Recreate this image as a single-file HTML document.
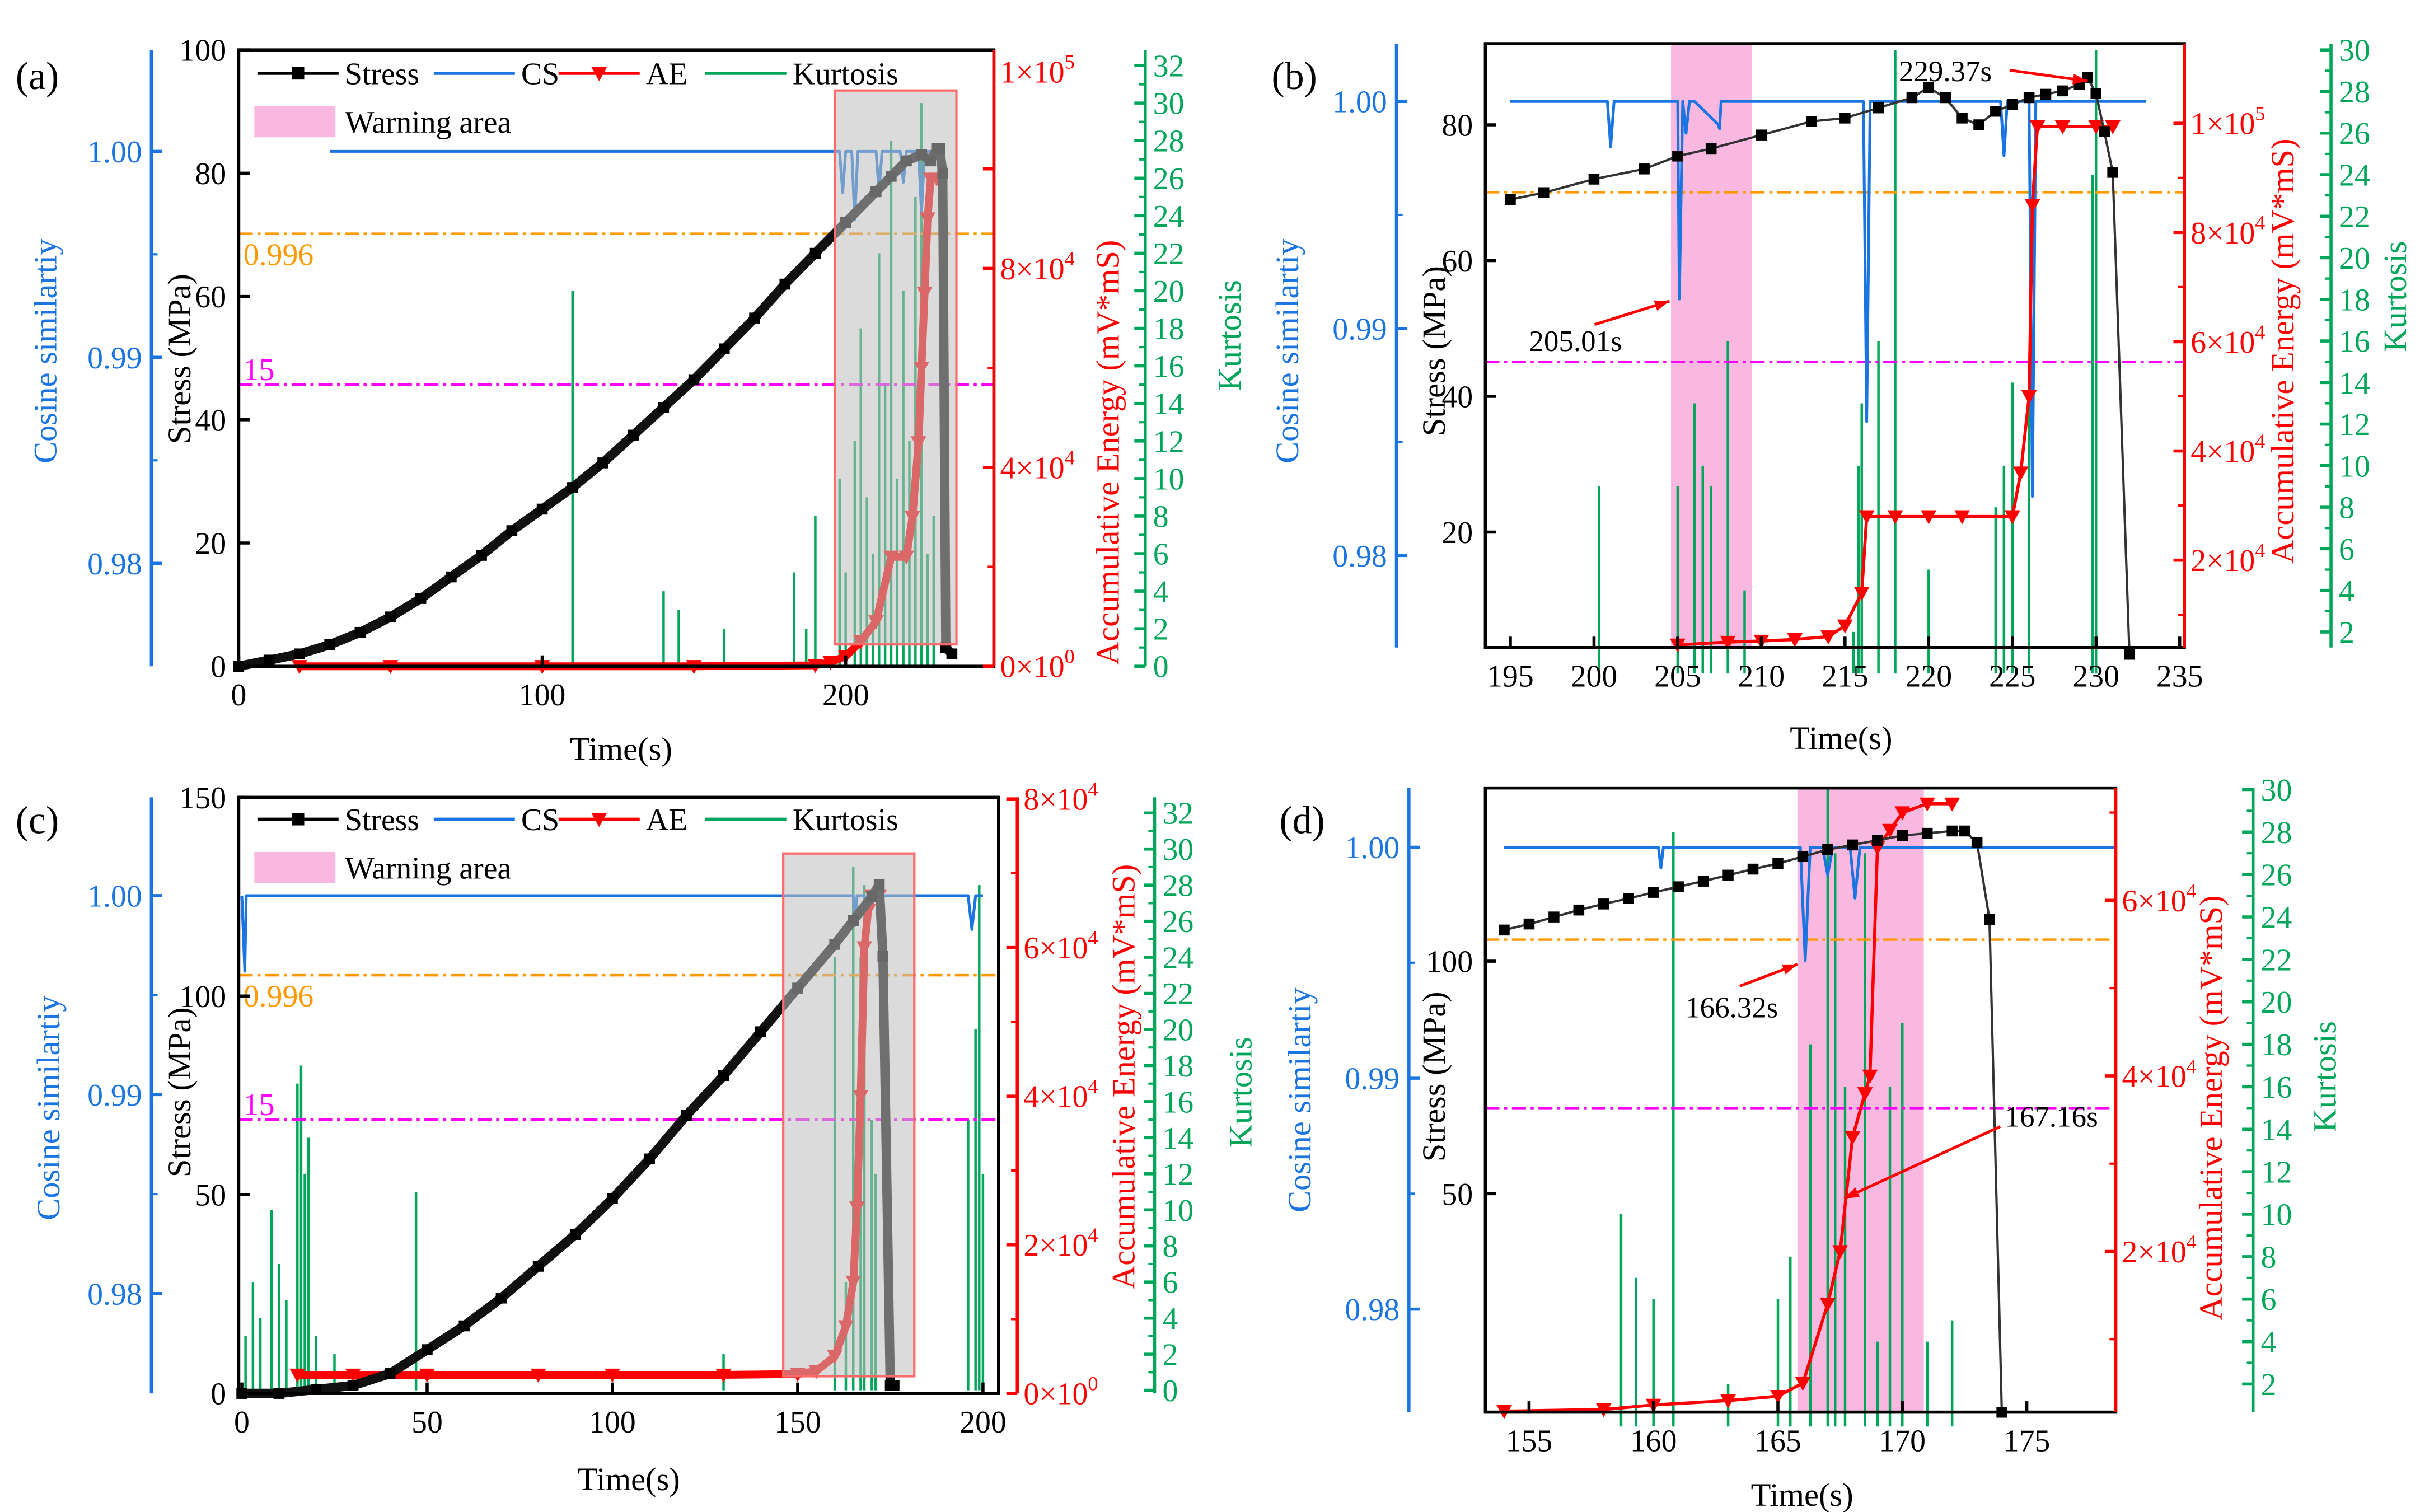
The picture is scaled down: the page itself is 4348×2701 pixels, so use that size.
<!DOCTYPE html>
<html><head><meta charset="utf-8"><style>
html,body{margin:0;padding:0;background:#fff;}
svg{display:block;font-family:"Liberation Serif",serif;}
text{font-family:"Liberation Serif",serif;}
</style></head><body>
<svg id="fig" xmlns="http://www.w3.org/2000/svg" width="4348" height="2701" viewBox="0 0 1560 969" preserveAspectRatio="none" font-family="Liberation Serif, serif"></svg>
<script>
// ---------- Panel (a) data ----------
const aStressT=[0,10,20,30,40,50,60,70,80,90,100,110,120,130,140,150,160,170,180,190,200,210,215,220,225,228,230,231,232,233,235];
const aStressV=[0,1,2,3.5,5.5,8,11,14.5,18,22,25.5,29,33,37.5,42,46.5,51.5,56.5,62,67,72,77,79.5,82,83,82,84,84,80,3,2];
const aCsT=[30,198,199,200,202,203,204,206,210,211,212,218,219,220,224,225,226,230];
const aCsV=[1.0,1.0,0.998,1.0,1.0,0.9967,1.0,1.0,1.0,0.998,1.0,1.0,0.9985,1.0,1.0,0.997,1.0,1.0];
const aAeT=[20,50,100,150,190,195,200,205,210,215,220,222,224,225,226,227,228,230];
const aAeV=[0,0,0,0,200,800,2000,5000,9000,22000,22000,30000,45000,60000,75000,90000,98000,98000];
const aKT=[110,140,145,160,183,187,190,198,200,203,205,207,209,211,213,215,217,219,221,223,225,227,229];
const aKV=[20,4,3,2,5,2,8,10,5,12,18,9,6,22,15,28,10,20,12,25,30,6,8];
// ---------- Panel (b) data ----------
const bStressT=[195,197,200,203,205,207,210,213,215,217,219,220,221,222,223,224,225,226,227,228,229,229.5,230,230.5,231,232];
const bStressV=[69,70,72,73.5,75.4,76.5,78.5,80.5,81,82.5,84,85.5,84,81,80,82,83,84,84.5,85,86,87,84.6,79,73,2];
const bCsT=[195,200.8,201,201.2,205,205.1,205.3,205.5,205.7,206,207.4,207.5,207.6,216.1,216.3,216.5,224.3,224.5,224.7,226,226.2,226.4,233];
const bCsV=[1.0,1.0,0.998,1.0,1.0,0.9913,1.0,0.9986,1.0,1.0,0.999,0.9988,1.0,1.0,0.9859,1.0,1.0,0.9976,1.0,1.0,0.9826,1.0,1.0];
const bAeT=[205,208,210,212,214,215,216,216.3,218,220,222,225,225.5,226,226.2,226.5,228,230,231];
const bAeV=[4500,5000,5200,5500,6000,8000,14000,28000,28000,28000,28000,28000,36000,50000,85000,99400,99400,99400,99400];
const bKT=[200.3,205,206,206.5,207,208,209,215.5,215.8,216,217,218,220,224,224.5,225,226,229.8,230];
const bKV=[9,9,13,10,9,16,4,2,10,13,16,30,5,8,10,14,15,24,30];
// ---------- Panel (c) data ----------
const cStressT=[0,10,20,30,40,50,60,70,80,90,100,110,120,130,140,150,160,165,170,172,173,175,176];
const cStressV=[0,0,1,2,5,11,17,24,32,40,49,59,70,80,91,102,113,119,125,128,110,2,2];
const cCsT=[0,0.8,1.2,2,160,165,165.5,166,168,168.5,169,196,197,198,200];
const cCsV=[1.0,0.9962,1.0,1.0,1.0,1.0,0.9985,1.0,1.0,0.998,1.0,1.0,0.9983,1.0,1.0];
const cAeT=[15,30,50,80,100,130,150,155,160,163,165,166,167,168,169,170,172];
const cAeV=[2500,2500,2500,2500,2500,2500,2600,3000,5000,9000,15000,25000,40000,60000,65000,67000,67000];
const cKT=[1,3,5,8,10,12,15,16,17,18,20,25,47,130,160,163,165,167,168,170,171,196,198,199,200];
const cKV=[3,6,4,10,7,5,17,18,12,14,3,2,11,2,24,6,29,24,28,15,12,15,20,28,12];
// ---------- Panel (d) data ----------
const dStressT=[154,155,156,157,158,159,160,161,162,163,164,165,166,167,168,169,170,171,172,172.5,173,173.5,174];
const dStressV=[106.7,108,109.5,111,112.3,113.5,114.8,116,117.2,118.5,119.8,121,122.5,124,125,126,127,127.5,128,128,125.5,109,3];
const dCsT=[154,160.2,160.3,160.4,165.9,166.1,166.3,166.8,167,167.2,167.9,168.1,168.3,178.5];
const dCsV=[1.0,1.0,0.9991,1.0,1.0,0.9951,1.0,1.0,0.9988,1.0,1.0,0.9978,1.0,1.0];
const dAeT=[154,158,160,163,165,166,167,167.5,168,168.5,168.7,169,169.5,170,171,172];
const dAeV=[1800,2000,2500,3000,3500,5000,14000,20000,33000,38000,40000,66000,68000,70000,71000,71000];
const dKT=[158.7,159.3,160,160.8,163,165,165.5,166.3,167,167.3,167.7,168.5,169,169.5,170,171,172];
const dKV=[10,7,6,28,2,6,8,18,30,27,16,27,4,16,19,4,5];

const NS='http://www.w3.org/2000/svg';
const svg=document.getElementById('fig');
function mk(tag,attrs,parent,name,inter){
  const e=document.createElementNS(NS,tag);
  for(const k in attrs)e.setAttribute(k,attrs[k]);
  
  
  (parent||svg).appendChild(e);return e;
}
function lin(d0,p0,d1,p1){const k=(p1-p0)/(d1-d0);return v=>p0+(v-d0)*k;}
const BLUE='#1a75e0',RED='#ff0000',GREEN='#00a65a',ORANGE='#ff9900',MAG='#ff00ff';
const FONT='Liberation Serif, serif';

function txt(g,x,y,s,fill,size,anchor,name,rot){
  const t=mk('text',{x:x,y:y,fill:fill,'font-size':size,'font-family':FONT,'text-anchor':anchor||'middle'},g,name);
  if(rot)t.setAttribute('transform','rotate(-90 '+x+' '+y+')');
  t.textContent=s;return t;
}
function sci(g,x,y,m,e,name){
  const t=mk('text',{x:x,y:y,fill:RED,'font-size':20,'font-family':FONT,'text-anchor':'start'},g,name);
  t.appendChild(document.createTextNode(m+'×10'));
  const s=document.createElementNS(NS,'tspan');s.setAttribute('dy','-9');s.setAttribute('font-size','13');s.textContent=e;t.appendChild(s);
}
function vaxis(g,x,y0,y1,color,ticks,fy,side,labelFn,name,minor){
  mk('line',{x1:x,y1:y0,x2:x,y2:y1,stroke:color,'stroke-width':2},g,name+'-line');
  ticks.forEach(v=>{const y=fy(v);
    mk('line',{x1:x,y1:y,x2:x+(side==='right'?-7:7),y2:y,stroke:color,'stroke-width':2},g,name+'-tick');
    labelFn(v,y);});
  (minor||[]).forEach(v=>{const y=fy(v);
    mk('line',{x1:x,y1:y,x2:x+(side==='right'?-4:4),y2:y,stroke:color,'stroke-width':1.5},g,name+'-minor-tick');});
}
function poly(g,T,V,fx,fy,color,w,name){
  const pts=T.map((t,i)=>fx(t).toFixed(1)+','+fy(V[i]).toFixed(1)).join(' ');
  mk('polyline',{points:pts,fill:'none',stroke:color,'stroke-width':w,'stroke-linejoin':'round'},g,name);
}
function squares(g,T,V,fx,fy,name){T.forEach((t,i)=>mk('rect',{x:fx(t)-3.5,y:fy(V[i])-3.5,width:7,height:7,fill:'#000'},g,name));}
function tris(g,T,V,fx,fy,name){T.forEach((t,i)=>{const x=fx(t),y=fy(V[i]);
  mk('polygon',{points:(x-5)+','+(y-4)+' '+(x+5)+','+(y-4)+' '+x+','+(y+5),fill:RED},g,name);});}
function spikes(g,T,V,fx,fy,name){T.forEach((t,i)=>{const x=fx(t);
  mk('line',{x1:x,y1:fy(0),x2:x,y2:fy(V[i]),stroke:GREEN,'stroke-width':1.6},g,name);});}
function legend(g,y){
  const items=[['Stress','#000',165,'sq'],['CS',BLUE,278,''],['AE',RED,358,'tri'],['Kurtosis',GREEN,452,'']];
  items.forEach(it=>{
    mk('line',{x1:it[2],y1:y,x2:it[2]+52,y2:y,stroke:it[1],'stroke-width':2},g,'legend-line-'+it[0].toLowerCase());
    if(it[3]==='sq')mk('rect',{x:it[2]+22,y:y-4,width:8,height:8,fill:'#000'},g,'legend-marker-stress');
    if(it[3]==='tri')mk('polygon',{points:(it[2]+21)+','+(y-4)+' '+(it[2]+31)+','+(y-4)+' '+(it[2]+26)+','+(y+5),fill:RED},g,'legend-marker-ae');
    txt(g,it[2]+56,y+7,it[0],'#000',20,'start','legend-label-'+it[0].toLowerCase());
  });
  mk('rect',{x:163,y:y+21,width:52,height:20,fill:'#f9b8e0'},g,'legend-warning-swatch');
  txt(g,221,y+38,'Warning area','#000',20,'start','legend-label-warning-area');
}

function panel(P){
  const g=mk('g',{},svg,'panel-'+P.id);
  const fx=P.fx,fs=P.fs,fc=P.fc,fa=P.fa,fk=P.fk;
  if(P.pink)mk('rect',{x:P.pink[0],y:P.fy0,width:P.pink[1]-P.pink[0],height:P.fy1-P.fy0,fill:'#f9b8e0'},g,'warning-area-band');
  spikes(g,P.kT,P.kV,fx,fk,'kurtosis-spike');
  mk('line',{x1:P.fx0,y1:fc(0.996),x2:P.fx1,y2:fc(0.996),stroke:ORANGE,'stroke-width':1.6,'stroke-dasharray':'9,3,2,3'},g,'cs-threshold-line');
  mk('line',{x1:P.fx0,y1:fk(15),x2:P.fx1,y2:fk(15),stroke:MAG,'stroke-width':1.6,'stroke-dasharray':'9,3,2,3'},g,'kurtosis-threshold-line');
  if(P.thLabels){txt(g,P.fx0+3,fc(0.996)+20,'0.996',ORANGE,20,'start','cs-threshold-label');
    txt(g,P.fx0+3,fk(15)-3,'15',MAG,20,'start','kurtosis-threshold-label');}
  poly(g,P.csT,P.csV,fx,fc,BLUE,1.8,'cs-line');
  poly(g,P.aeT,P.aeV,fx,fa,RED,P.dense?5:2,'ae-line');
  tris(g,P.aeT,P.aeV,fx,fa,'ae-marker');
  poly(g,P.sT,P.sV,fx,fs,P.dense?'#111':'#333',P.dense?6:1.5,'stress-line');
  squares(g,P.sT,P.sV,fx,fs,'stress-marker');
  if(P.gray)mk('rect',{x:P.gray[0],y:P.gray[1],width:P.gray[2]-P.gray[0],height:P.gray[3]-P.gray[1],fill:'#bdbdbd','fill-opacity':0.55,stroke:'#ff6b6b','stroke-width':1.5},g,'warning-box');
  mk('rect',{x:P.fx0,y:P.fy0,width:P.fx1-P.fx0,height:P.fy1-P.fy0,fill:'none',stroke:'#000','stroke-width':2},g,'plot-frame');
  P.xt.forEach(v=>{const x=fx(v);
    mk('line',{x1:x,y1:P.fy1,x2:x,y2:P.fy1-7,stroke:'#000','stroke-width':2},g,'x-tick');
    txt(g,x,P.fy1+25,String(v),'#000',20,'middle','x-tick-label');});
  P.st.forEach(v=>{const y=fs(v);
    mk('line',{x1:P.fx0,y1:y,x2:P.fx0+7,y2:y,stroke:'#000','stroke-width':2},g,'stress-tick');
    txt(g,P.fx0-8,y+7,String(v),'#000',20,'end','stress-tick-label');});
  vaxis(g,P.bx,P.fy0,P.fy1,BLUE,[1.0,0.99,0.98],fc,'left',(v,y)=>txt(g,P.bx-6,y+7,v.toFixed(2),BLUE,20,'end','cs-tick-label'),'cs-axis',[0.995,0.985,1.005].filter(v=>fc(v)>P.fy0&&fc(v)<P.fy1));
  vaxis(g,P.rx,P.fy0,P.fy1,RED,P.at.map(a=>a[0]),fa,'right',(v,y)=>{const a=P.at.find(q=>q[0]===v);sci(g,P.rx+4,(a[3]!==undefined?a[3]:y)+7,a[1],a[2],'ae-tick-label');},'ae-axis',P.am);
  vaxis(g,P.gx,P.fy0,P.fy1,GREEN,P.kt,fk,'right',(v,y)=>txt(g,P.gx+5,y+7,String(v),GREEN,20,'start','kurtosis-tick-label'),'kurtosis-axis',P.kt.map(v=>v+1).filter(v=>fk(v)>P.fy0));
  txt(g,P.xTitle[0],P.xTitle[1],'Time(s)','#000',21,'middle','x-axis-title');
  txt(g,P.cTitle[0],P.cTitle[1],'Cosine similartiy',BLUE,21,'middle','cs-axis-title',true);
  txt(g,P.sTitle[0],P.sTitle[1],'Stress (MPa)','#000',21,'middle','stress-axis-title',true);
  txt(g,P.aTitle[0],P.aTitle[1],'Accumulative Energy (mV*mS)',RED,21,'middle','ae-axis-title',true);
  txt(g,P.kTitle[0],P.kTitle[1],'Kurtosis',GREEN,21,'middle','kurtosis-axis-title',true);
  txt(g,P.label[0],P.label[1],'('+P.id+')','#000',25,'start','panel-label');
  if(P.legendY)legend(g,P.legendY);
  (P.notes||[]).forEach(n=>{txt(g,n[0],n[1],n[2],'#000',19,'start','annotation-'+n[2]);
    mk('line',{x1:n[3],y1:n[4],x2:n[5],y2:n[6],stroke:RED,'stroke-width':1.8},g,'annotation-arrow');
    const ang=Math.atan2(n[6]-n[4],n[5]-n[3]),L=10;
    const p=[[n[5],n[6]],[n[5]-L*Math.cos(ang-0.35),n[6]-L*Math.sin(ang-0.35)],[n[5]-L*Math.cos(ang+0.35),n[6]-L*Math.sin(ang+0.35)]];
    mk('polygon',{points:p.map(q=>q.join(',')).join(' '),fill:RED},g,'annotation-arrowhead');});
}
const k32=[];for(let i=0;i<=32;i+=2)k32.push(i);
const k30=[];for(let i=2;i<=30;i+=2)k30.push(i);
panel({id:'a',fx0:153,fx1:637,fy0:32,fy1:427,fx:lin(0,153,200,542),fs:lin(0,427,100,32),fc:lin(1,97,0.98,361),fa:lin(0,427,8e4,172),fk:lin(0,427,32,42),
  sT:aStressT,sV:aStressV,csT:aCsT,csV:aCsV,aeT:aAeT,aeV:aAeV,kT:aKT,kV:aKV,dense:true,thLabels:true,gray:[535,58,613,413],
  xt:[0,100,200],st:[0,20,40,60,80,100],bx:97,rx:637,gx:734,at:[[0,0,0],[4e4,4,4],[8e4,8,4],[1e5,1,5,46]],am:[2e4,6e4],kt:k32,
  xTitle:[398,487],cTitle:[36,225],sTitle:[122,230],aTitle:[717,290],kTitle:[795,215],label:[10,57],legendY:47});
panel({id:'b',fx0:952,fx1:1400,fy0:28,fy1:415,fx:lin(195,968,235,1397),fs:lin(20,341,80,80),fc:lin(1,65,0.98,356),fa:lin(0,429,1e5,79),fk:lin(2,405,30,32),
  sT:bStressT,sV:bStressV,csT:bCsT,csV:bCsV,aeT:bAeT,aeV:bAeV,kT:bKT,kV:bKV,pink:[1071,1123],
  xt:[195,200,205,210,215,220,225,230,235],st:[20,40,60,80],bx:895,rx:1400,gx:1494,at:[[2e4,2,4],[4e4,4,4],[6e4,6,4],[8e4,8,4],[1e5,1,5]],am:[1e4,3e4,5e4,7e4,9e4],kt:k30,
  xTitle:[1180,480],cTitle:[832,225],sTitle:[926,225],aTitle:[1470,225],kTitle:[1542,190],label:[815,57],
  notes:[[1217,52,'229.37s',1288,45,1338,52],[980,225,'205.01s',1022,208,1070,193]]});
panel({id:'c',fx0:153,fx1:640,fy0:511,fy1:893,fx:lin(0,155,200,630),fs:lin(0,893,150,511),fc:lin(1,574,0.98,829),fa:lin(0,893,8e4,512),fk:lin(0,891,32,521),
  sT:cStressT,sV:cStressV,csT:cCsT,csV:cCsV,aeT:cAeT,aeV:cAeV,kT:cKT,kV:cKV,dense:true,thLabels:true,gray:[502,547,586,882],
  xt:[0,50,100,150,200],st:[0,50,100,150],bx:97,rx:652,gx:740,at:[[0,0,0],[2e4,2,4],[4e4,4,4],[6e4,6,4],[8e4,8,4]],am:[1e4,3e4,5e4,7e4],kt:k32,
  xTitle:[403,955],cTitle:[38,710],sTitle:[122,700],aTitle:[727,690],kTitle:[802,700],label:[10,534],legendY:525});
panel({id:'d',fx0:952,fx1:1356,fy0:505,fy1:905,fx:lin(155,980,175,1299),fs:lin(50,765,100,616),fc:lin(1,543,0.98,839),fa:lin(2e4,802,6e4,577),fk:lin(2,887,30,506),
  sT:dStressT,sV:dStressV,csT:dCsT,csV:dCsV,aeT:dAeT,aeV:dAeV,kT:dKT,kV:dKV,pink:[1152,1233],
  xt:[155,160,165,170,175],st:[50,100],bx:903,rx:1356,gx:1444,at:[[2e4,2,4],[4e4,4,4],[6e4,6,4]],am:[1e4,3e4,5e4,7e4],kt:k30,
  xTitle:[1155,965],cTitle:[840,705],sTitle:[926,690],aTitle:[1424,710],kTitle:[1497,690],label:[820,534],
  notes:[[1080,652,'166.32s',1115,632,1152,618],[1285,722,'167.16s',1282,722,1182,768]]});
</script>
</body></html>
